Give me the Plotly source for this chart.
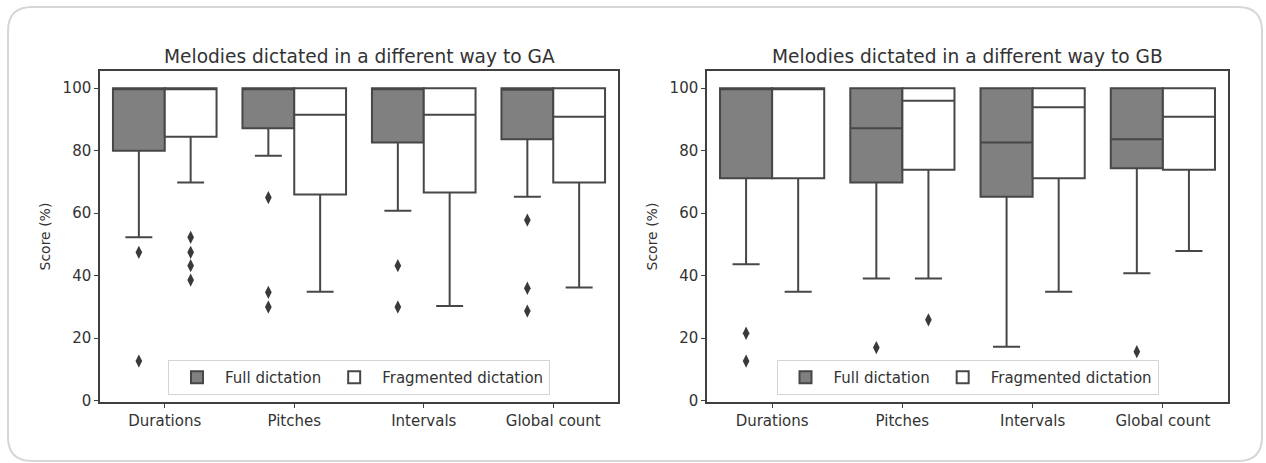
import plotly.graph_objects as go

categories = ["Durations", "Pitches", "Intervals", "Global count"]
series_names = ["Full dictation", "Fragmented dictation"]
titles = ["Melodies dictated in a different way to GA", "Melodies dictated in a different way to GB"]
y_ticks = [0, 20, 40, 60, 80, 100]

# ---- GA panel ----
ga_full_q1 = [80.0, 87.2, 82.6, 83.7]
ga_full_med = [100.0, 100.0, 100.0, 99.5]
ga_full_q3 = [100.0, 100.0, 100.0, 100.0]
ga_full_lo = [52.3, 78.4, 60.8, 65.3]
ga_full_hi = [100.0, 100.0, 100.0, 100.0]
ga_full_out = [[47.5, 12.7], [65.0, 34.7, 30.0], [43.2, 30.0], [57.8, 36.0, 28.7]]

ga_frag_q1 = [84.5, 66.0, 66.6, 69.8]
ga_frag_med = [100.0, 91.5, 91.5, 90.9]
ga_frag_q3 = [100.0, 100.0, 100.0, 100.0]
ga_frag_lo = [69.8, 34.9, 30.3, 36.2]
ga_frag_hi = [100.0, 100.0, 100.0, 100.0]
ga_frag_out = [[52.3, 47.5, 43.2, 38.6], [], [], []]

# ---- GB panel ----
gb_full_q1 = [71.2, 69.8, 65.3, 74.4]
gb_full_med = [100.0, 87.2, 82.6, 83.7]
gb_full_q3 = [100.0, 100.0, 100.0, 100.0]
gb_full_lo = [43.7, 39.1, 17.3, 40.8]
gb_full_hi = [100.0, 100.0, 100.0, 100.0]
gb_full_out = [[21.6, 12.7], [17.0], [], [15.7]]

gb_frag_q1 = [71.2, 73.9, 71.2, 73.9]
gb_frag_med = [100.0, 96.0, 93.9, 90.9]
gb_frag_q3 = [100.0, 100.0, 100.0, 100.0]
gb_frag_lo = [34.9, 39.1, 34.9, 47.9]
gb_frag_hi = [100.0, 100.0, 100.0, 100.0]
gb_frag_out = [[], [25.9], [], []]

W, H = 1266, 463
FULL_FILL = "#808080"
FRAG_FILL = "#ffffff"
EDGE = "#474747"
TEXT = "#333333"
FONT = "DejaVu Sans"

panels = [
    dict(full=(ga_full_q1, ga_full_med, ga_full_q3, ga_full_lo, ga_full_hi, ga_full_out),
         frag=(ga_frag_q1, ga_frag_med, ga_frag_q3, ga_frag_lo, ga_frag_hi, ga_frag_out),
         px=(100, 618)),
    dict(full=(gb_full_q1, gb_full_med, gb_full_q3, gb_full_lo, gb_full_hi, gb_full_out),
         frag=(gb_frag_q1, gb_frag_med, gb_frag_q3, gb_frag_lo, gb_frag_hi, gb_frag_out),
         px=(707, 1228)),
]
top_px, bot_px = 71, 402

fig = go.Figure()
layout = dict(
    width=W, height=H, margin=dict(l=0, r=0, t=0, b=0),
    paper_bgcolor="white", plot_bgcolor="white",
    boxmode="overlay",
    font=dict(family=FONT, size=15, color=TEXT),
    annotations=[], shapes=[],
)

offsets = [-0.2, 0.2]
for p_i, panel in enumerate(panels):
    xa = "x" if p_i == 0 else "x2"
    ya = "y" if p_i == 0 else "y2"
    legend_name = "legend" if p_i == 0 else "legend2"
    for s_i, key in enumerate(["full", "frag"]):
        q1, med, q3, lo, hi, outs = panel[key]
        fill = FULL_FILL if key == "full" else FRAG_FILL
        pos = [i + offsets[s_i] for i in range(len(categories))]
        fig.add_trace(go.Box(
            x=pos, q1=q1, median=med, q3=q3, lowerfence=lo, upperfence=hi,
            width=0.4, whiskerwidth=0.52, fillcolor=fill,
            line=dict(color=EDGE, width=2), boxpoints=False,
            name=series_names[s_i], xaxis=xa, yaxis=ya, legend=legend_name,
            hoverinfo="skip",
        ))
        ox, oy = [], []
        for i, vals in enumerate(outs):
            for v in vals:
                ox.append(pos[i])
                oy.append(v)
        fig.add_trace(go.Scatter(
            x=ox, y=oy, mode="markers",
            marker=dict(symbol="diamond-tall", size=9.5, color="#3a3a3a",
                        line=dict(width=0)),
            showlegend=False, xaxis=xa, yaxis=ya, hoverinfo="skip",
        ))

    x0, x1 = panel["px"]
    dom_x = [x0 / W, x1 / W]
    dom_y = [1 - bot_px / H, 1 - top_px / H]
    axis_common = dict(showgrid=False, zeroline=False, showline=True, linecolor="#404040",
                       linewidth=1.5, mirror=True, ticks="outside", ticklen=4,
                       tickcolor="#404040", tickwidth=1.2, automargin=False,
                       tickfont=dict(family=FONT, size=15, color=TEXT))
    xkey = "xaxis" if p_i == 0 else "xaxis2"
    ykey = "yaxis" if p_i == 0 else "yaxis2"
    layout[xkey] = dict(axis_common, domain=dom_x, range=[-0.5, 3.5],
                        tickvals=list(range(len(categories))), ticktext=categories,
                        anchor=ya)
    layout[ykey] = dict(axis_common, domain=dom_y, range=[-0.4, 105.5],
                        tickvals=y_ticks, ticktext=[str(t) for t in y_ticks],
                        anchor=xa)
    cx = (x0 + x1) / 2 / W
    layout["annotations"].append(dict(
        text=titles[p_i], x=cx, y=1 - 57 / H, xref="paper", yref="paper",
        xanchor="center", yanchor="middle", showarrow=False,
        font=dict(family=FONT, size=18.6, color=TEXT)))
    layout["annotations"].append(dict(
        text="Score (%)", x=(x0 - 55) / W, y=(dom_y[0] + dom_y[1]) / 2,
        xref="paper", yref="paper", xanchor="center", yanchor="middle",
        textangle=-90, showarrow=False, font=dict(family=FONT, size=14, color=TEXT)))
    layout[legend_name] = dict(
        orientation="h", x=cx, xanchor="center", y=1 - 395 / H, yanchor="bottom",
        xref="paper", yref="paper",
        bgcolor="rgba(255,255,255,0.8)", bordercolor="#d4d4d4", borderwidth=1,
        font=dict(family=FONT, size=15, color=TEXT), itemwidth=46,
        traceorder="normal",
    )

# rounded outer frame (screenshot border)
fx0, fy0, fx1, fy1, r = 8, 7, 1262, 461, 24
def px2p(x, y):
    return f"{x / W:.5f},{1 - y / H:.5f}"
path = (f"M {px2p(fx0 + r, fy0)} L {px2p(fx1 - r, fy0)} Q {px2p(fx1, fy0)} {px2p(fx1, fy0 + r)} "
        f"L {px2p(fx1, fy1 - r)} Q {px2p(fx1, fy1)} {px2p(fx1 - r, fy1)} "
        f"L {px2p(fx0 + r, fy1)} Q {px2p(fx0, fy1)} {px2p(fx0, fy1 - r)} "
        f"L {px2p(fx0, fy0 + r)} Q {px2p(fx0, fy0)} {px2p(fx0 + r, fy0)} Z")
layout["shapes"].append(dict(type="path", path=path, xref="paper", yref="paper",
                             line=dict(color="#d6d6d6", width=2), layer="below"))

fig.update_layout(**layout)
fig.write_html("out.html")
